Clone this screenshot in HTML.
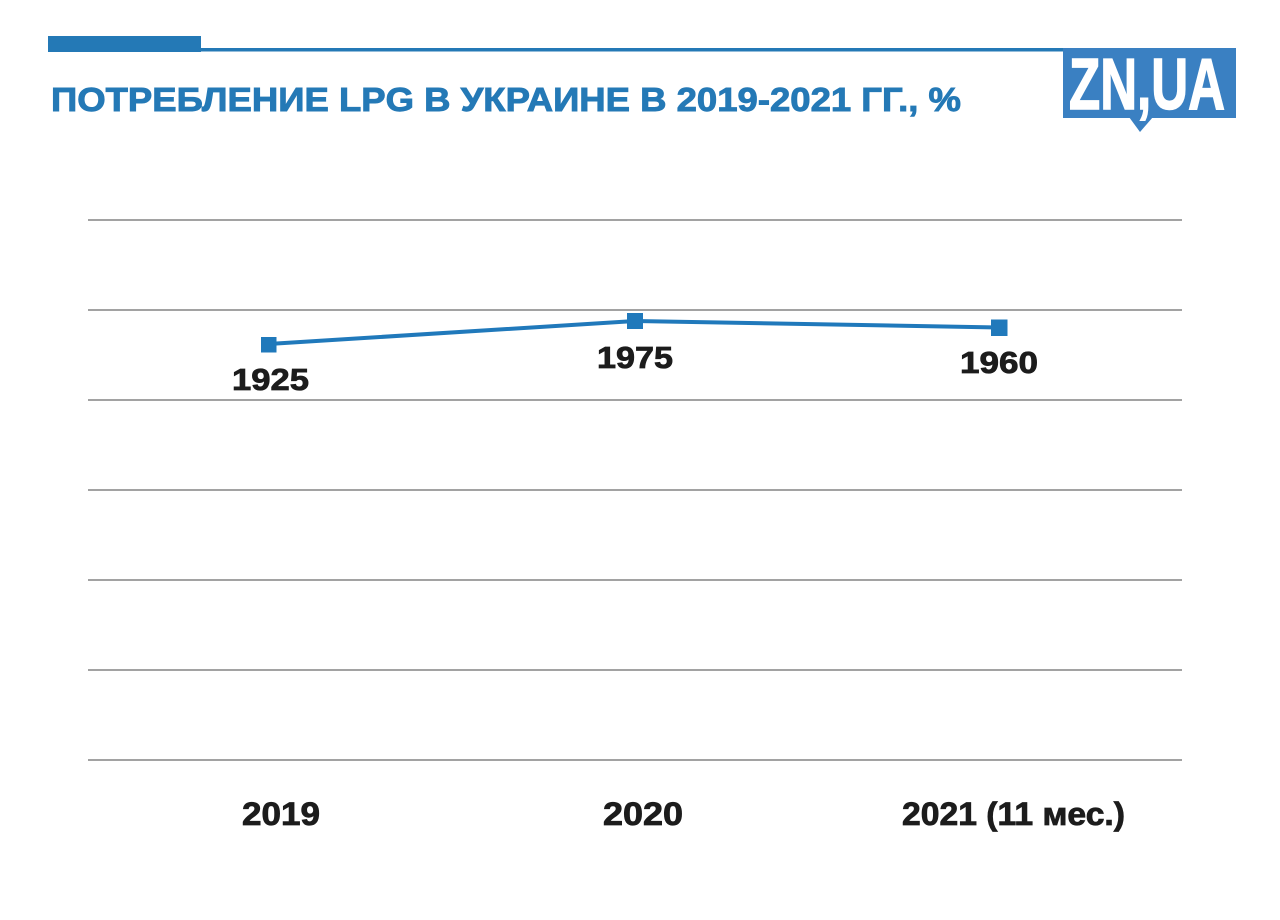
<!DOCTYPE html>
<html>
<head>
<meta charset="utf-8">
<style>
  html,body{margin:0;padding:0;background:#fff;}
  svg{display:block;}
</style>
</head>
<body>
<svg width="1280" height="920" viewBox="0 0 1280 920" xmlns="http://www.w3.org/2000/svg">
  <rect x="0" y="0" width="1280" height="920" fill="#ffffff"/>
  <!-- top bar -->
  <rect x="48" y="36" width="153" height="16" fill="#2479b6"/>
  <rect x="200" y="48" width="864" height="3.5" fill="#2479b6"/>
  <!-- logo -->
  <rect x="1063" y="48" width="173" height="70" fill="#3a80c2"/>
  <polygon points="1129,117 1153,117 1140,132" fill="#3a80c2"/>
  <text x="1069" y="109" font-family="Liberation Sans, sans-serif" font-weight="bold" font-size="72" fill="#ffffff" stroke="#ffffff" stroke-width="1.5" textLength="156" lengthAdjust="spacingAndGlyphs">ZN,UA</text>
  <!-- title -->
  <text x="51" y="111" font-family="Liberation Sans, sans-serif" font-weight="bold" font-size="33" fill="#2479b6" stroke="#2479b6" stroke-width="0.9" textLength="910" lengthAdjust="spacingAndGlyphs">ПОТРЕБЛЕНИЕ LPG В УКРАИНЕ В 2019-2021 ГГ., %</text>
  <!-- gridlines -->
  <g stroke="#6a6a6a" stroke-width="1.2">
    <line x1="88" y1="220" x2="1182" y2="220"/>
    <line x1="88" y1="310" x2="1182" y2="310"/>
    <line x1="88" y1="400" x2="1182" y2="400"/>
    <line x1="88" y1="490" x2="1182" y2="490"/>
    <line x1="88" y1="580" x2="1182" y2="580"/>
    <line x1="88" y1="670" x2="1182" y2="670"/>
    <line x1="88" y1="760" x2="1182" y2="760"/>
  </g>
  <!-- series -->
  <polyline points="268.5,344 635,321 999,327.5" fill="none" stroke="#2079bb" stroke-width="4"/>
  <rect x="261" y="337" width="15.5" height="15.5" fill="#2079bb"/>
  <rect x="627" y="313" width="16" height="16" fill="#2079bb"/>
  <rect x="991" y="319.5" width="16.5" height="16.5" fill="#2079bb"/>
  <!-- value labels -->
  <g font-family="Liberation Sans, sans-serif" font-weight="bold" font-size="31" fill="#1c1c1c" stroke="#1c1c1c" stroke-width="0.8">
    <text x="232" y="390" textLength="77" lengthAdjust="spacingAndGlyphs">1925</text>
    <text x="597" y="368" textLength="76" lengthAdjust="spacingAndGlyphs">1975</text>
    <text x="960" y="373" textLength="78" lengthAdjust="spacingAndGlyphs">1960</text>
  </g>
  <!-- x labels -->
  <g font-family="Liberation Sans, sans-serif" font-weight="bold" font-size="32" fill="#1c1c1c" stroke="#1c1c1c" stroke-width="0.8">
    <text x="242" y="825" textLength="78" lengthAdjust="spacingAndGlyphs">2019</text>
    <text x="603" y="825" textLength="80" lengthAdjust="spacingAndGlyphs">2020</text>
    <text x="902" y="825" textLength="223" lengthAdjust="spacingAndGlyphs">2021 (11 мес.)</text>
  </g>
</svg>
</body>
</html>
